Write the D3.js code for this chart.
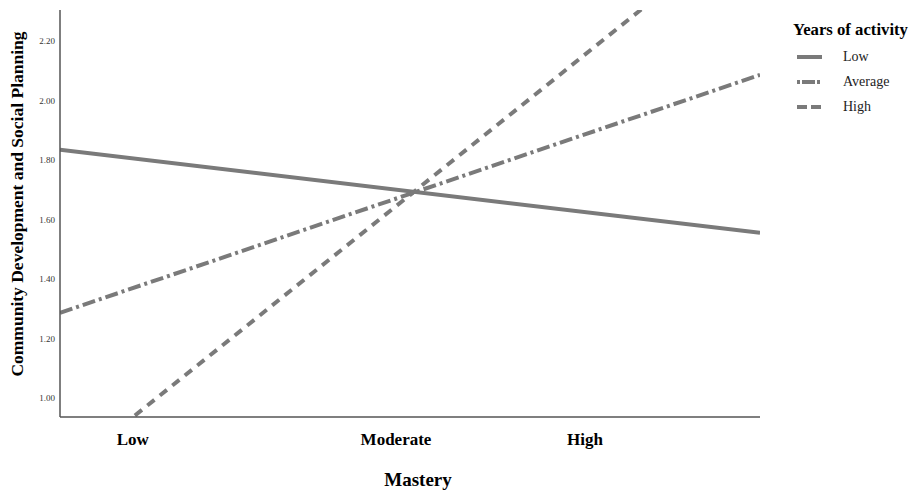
<!DOCTYPE html>
<html>
<head>
<meta charset="utf-8">
<script src="https://cdn.jsdelivr.net/npm/d3@7"></script>
<style>
  body { margin: 0; background: #fff; }
  svg { font-family: "Liberation Serif", "Times New Roman", serif; }
</style>
</head>
<body>
<div id="chart"></div>
<script>
// mastery runs 0 (left edge) .. 1 (right edge) of the plot
var masteryEnds = [0, 1];
var lowYears = [1.834, 1.555];
var avgYears = [1.286, 2.086];
var highYears = [0.739, 2.626];
var seriesNames = ['Low', 'Average', 'High'];
var categoryLabels = ['Low', 'Moderate', 'High'];
var categoryPos = [0.104, 0.48, 0.75];
var yTicks = [1.0, 1.2, 1.4, 1.6, 1.8, 2.0, 2.2];

var width = 912, height = 490;
var margin = {left: 60, right: 152, top: 10, bottom: 73};
var w = width - margin.left - margin.right,
    h = height - margin.top - margin.bottom;

var svg = d3.select('#chart').append('svg')
    .attr('width', width)
    .attr('height', height)

var g = svg.append('g')
    .attr('transform', 'translate(' + margin.left + ',' + margin.top + ')')

var x = d3.scaleLinear().domain([0, 1]).range([0, w])
var y = d3.scaleLinear().domain([0.936, 2.304]).range([h, 0])

svg.append('defs').append('clipPath').attr('id', 'clip')
    .append('rect').attr('width', w).attr('height', h)

var series = [
    {name: seriesNames[0], vals: lowYears, dash: null},
    {name: seriesNames[1], vals: avgYears, dash: '13,4,3,4'},
    {name: seriesNames[2], vals: highYears, dash: '9,7'}
]

var line = d3.line()
    .x(function(d, i) { return x(masteryEnds[i]) })
    .y(function(d) { return y(d) })

g.append('g').attr('clip-path', 'url(#clip)')
  .selectAll('path')
  .data(series)
  .enter()
  .append('path')
    .attr('d', function(d) { return line(d.vals) })
    .style('fill', 'none')
    .style('stroke', '#7a7a7a')
    .style('stroke-width', 4)
    .style('stroke-dasharray', function(d) { return d.dash })

// y axis
var yAxis = g.append('g')
    .call(d3.axisLeft(y).tickValues(yTicks).tickFormat(d3.format('.2f')).tickSize(0).tickPadding(5))
yAxis.select('.domain').remove()
yAxis.selectAll('text')
    .style('font-family', '"Liberation Serif", "Times New Roman", serif')
    .style('font-size', '9px')
    .style('fill', '#333')

g.append('line')
    .attr('x1', 0).attr('x2', 0).attr('y1', 0).attr('y2', h)
    .style('stroke', '#555').style('stroke-width', 1.5)
g.append('line')
    .attr('x1', 0).attr('x2', w).attr('y1', h).attr('y2', h)
    .style('stroke', '#555').style('stroke-width', 1.5)

// category labels
g.selectAll('text.cat')
  .data(categoryLabels)
  .enter()
  .append('text')
    .attr('class', 'cat')
    .attr('x', function(d, i) { return x(categoryPos[i]) })
    .attr('y', h + 28)
    .style('text-anchor', 'middle')
    .style('font-weight', 'bold')
    .style('font-size', '17px')
    .text(function(d) { return d })

svg.append('text')
    .attr('x', 418).attr('y', 486)
    .style('text-anchor', 'middle')
    .style('font-weight', 'bold')
    .style('font-size', '19px')
    .text('Mastery')

svg.append('text')
    .attr('transform', 'translate(23,204) rotate(-90)')
    .style('text-anchor', 'middle')
    .style('font-weight', 'bold')
    .style('font-size', '17.5px')
    .text('Community Development and Social Planning')

// legend
var legend = svg.append('g').attr('transform', 'translate(793,0)')
legend.append('text')
    .attr('x', 0).attr('y', 35)
    .style('font-weight', 'bold')
    .style('font-size', '16.7px')
    .text('Years of activity')

var items = legend.selectAll('g.item')
  .data(series)
  .enter()
  .append('g')
    .attr('class', 'item')
    .attr('transform', function(d, i) { return 'translate(0,' + (57 + i * 25) + ')' })

items.append('line')
    .attr('x1', 4).attr('x2', 29)
    .style('stroke', '#7a7a7a')
    .style('stroke-width', 4)
    .style('stroke-dasharray', function(d, i) { return i == 1 ? '3,2,13,2,3' : (i == 2 ? '10,4' : null) })

items.append('text')
    .attr('x', 50).attr('y', 4)
    .style('font-size', '14px')
    .style('fill', '#222')
    .text(function(d) { return d.name })
</script>
</body>
</html>
